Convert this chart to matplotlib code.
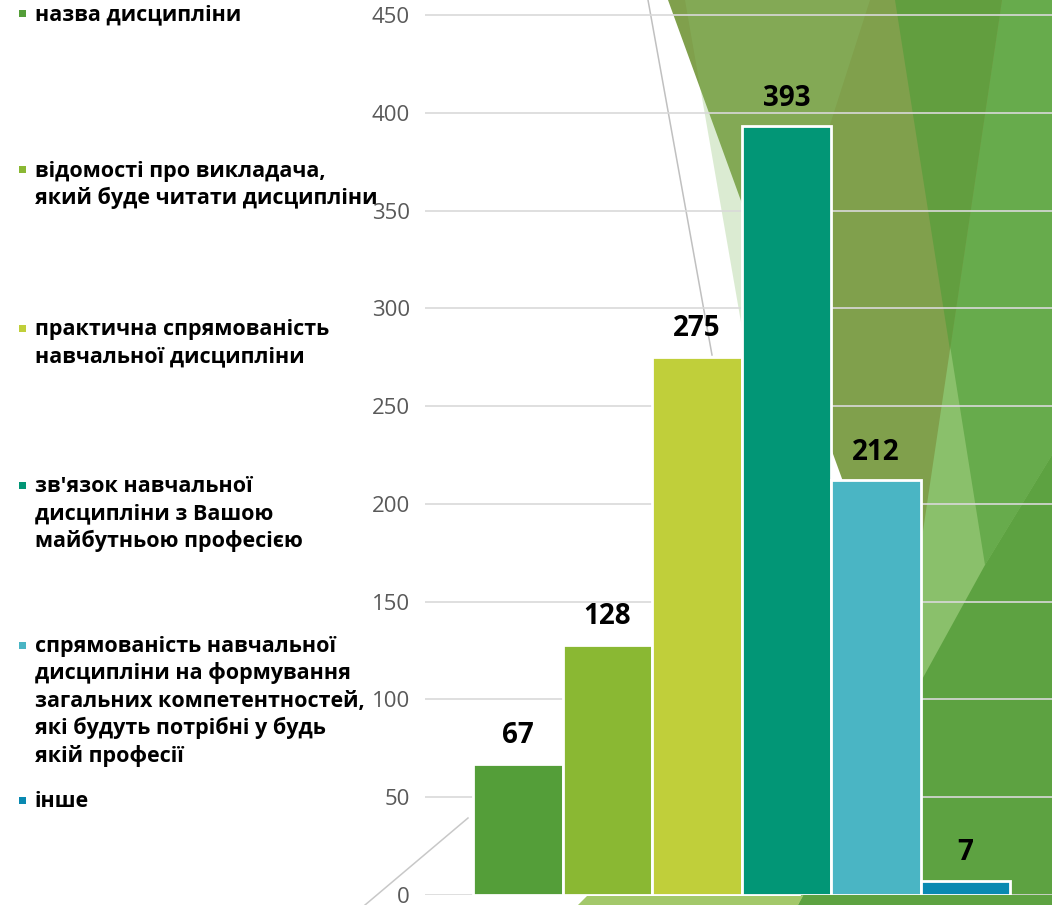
import matplotlib
matplotlib.use('Agg')
import matplotlib.pyplot as plt
from matplotlib import font_manager
from matplotlib.patches import Polygon, Rectangle

# pick a sans family that really has a bold face installed
bold_family = 'DejaVu Sans'
for fam in ['Noto Sans', 'Open Sans', 'Lato', 'Roboto', 'Inter']:
    try:
        path = font_manager.findfont(font_manager.FontProperties(family=fam, weight='bold'),
                                     fallback_to_default=False)
    except Exception:
        continue
    if 'bold' in path.lower():
        bold_family = fam
        break
plt.rcParams['font.family'] = [bold_family, 'DejaVu Sans']

# data
categories = [
    'назва дисципліни',
    'відомості про викладача,\nякий буде читати дисципліни',
    'практична спрямованість\nнавчальної дисципліни',
    "зв'язок навчальної\nдисципліни з Вашою\nмайбутньою професією",
    'спрямованість навчальної\nдисципліни на формування\nзагальних компетентностей,\nякі будуть потрібні у будь\nякій професії',
    'інше',
]
values = [67, 128, 275, 393, 212, 7]
colors = ['#549E39', '#8AB833', '#C0CF3A', '#029676', '#4AB5C4', '#0989B1']
yticks = [0, 50, 100, 150, 200, 250, 300, 350, 400, 450]

W, H = 1052, 905
fig = plt.figure(figsize=(W / 100, H / 100), dpi=100)

# background decoration, pixel coordinates (y down)
bg = fig.add_axes([0, 0, 1, 1], zorder=0)
bg.set_xlim(0, W)
bg.set_ylim(H, 0)
bg.axis('off')

shapes = [
    ([(880, 0), (1052, 0), (1052, 905), (798, 905), (830, 800), (900, 400)], '#8AC06B', 1.0),
    ([(895, 0), (1052, 0), (1052, 455), (985, 565)], '#67AB4C', 1.0),
    ([(985, 565), (1052, 455), (1052, 905), (798, 905)], '#5DA241', 1.0),
    ([(668, 0), (1002, 0), (905, 652)], '#80A04C', 1.0),
    ([(895, 0), (1002, 0), (950, 350)], '#629E3F', 1.0),
    ([(685, 0), (870, 0), (750, 374)], '#8AC06B', 0.3),
    ([(578, 905), (587, 896), (803, 896), (798, 905)], '#A3C86A', 1.0),
]
for pts, c, a in shapes:
    bg.add_patch(Polygon(pts, closed=True, facecolor=c, edgecolor='none', alpha=a))
bg.plot([648, 712], [0, 355], color='#C0C0C0', lw=1.1)
bg.plot([365, 468], [905, 818], color='#C8C8C8', lw=1.1)

# legend drawn by hand: square + wrapped text, first line aligned with square
legend_y = [13.5, 170, 328, 485, 645, 800]
line_step = 27.5
for label, c, yc in zip(categories, colors, legend_y):
    bg.add_patch(Rectangle((19, yc - 3.5), 7, 7, facecolor=c, edgecolor='none'))
    for k, line in enumerate(label.split('\n')):
        bg.text(35, yc + 6.5 + k * line_step, line, fontsize=15.5, fontweight='bold',
                color='black', va='baseline', ha='left')

# main chart
ax = fig.add_axes([425 / W, 10 / H, 627 / W, 895 / H], zorder=1)
ax.patch.set_alpha(0)
x = list(range(len(values)))
bars = ax.bar(x, values, width=1.0, color=colors, edgecolor='white', linewidth=2)
ax.bar_label(bars, padding=10, fontsize=20, fontweight='bold', color='black')

ax.set_ylim(0, 895 / (880 / 450))
ax.set_xlim(-1.04, 5.97)
ax.set_yticks(yticks)
ax.set_yticklabels([str(t) for t in yticks], fontsize=16, color='#595959',
                   family=['Open Sans', 'DejaVu Sans'])
ax.set_xticks([])
ax.tick_params(axis='y', length=0, pad=11)
ax.yaxis.grid(True, color='#D9D9D9', lw=1.2)
ax.set_axisbelow(True)
for s in ax.spines.values():
    s.set_visible(False)

fig.savefig('out.png', dpi=100)
